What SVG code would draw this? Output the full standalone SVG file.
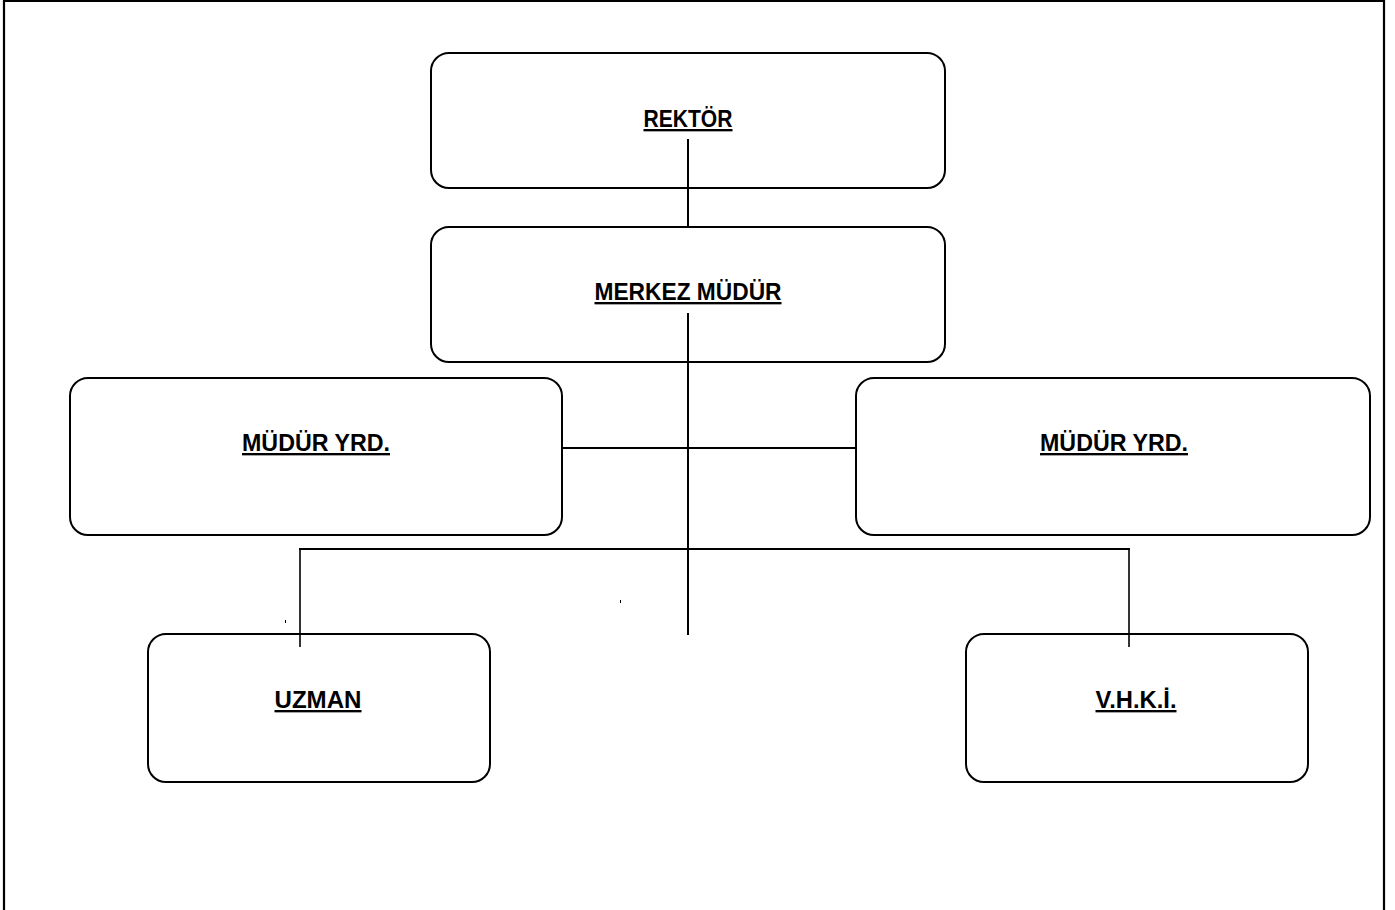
<svg xmlns="http://www.w3.org/2000/svg" width="1395" height="910" viewBox="0 0 1395 910">
<style>
.box{fill:#fff;stroke:#000;stroke-width:2}
.lbl{font-family:"Liberation Sans",Arial,sans-serif;font-weight:bold;font-size:23.5px;text-anchor:middle;text-decoration:underline;fill:#000}
.ln{stroke:#000;stroke-width:2;fill:none}
.ln2{stroke:#000;stroke-width:1.6;fill:none}
</style>
<rect x="0" y="0" width="1395" height="910" fill="#fff"/>
<path d="M4,910 V1 H1384 V910" fill="none" stroke="#000" stroke-width="2.2"/>
<g id="n-rektor"><rect class="box" x="431" y="53" width="514" height="135" rx="18"/><text class="lbl" x="688" y="127" textLength="89" lengthAdjust="spacingAndGlyphs">REKTÖR</text></g>
<g id="n-merkez"><rect class="box" x="431" y="227" width="514" height="135" rx="18"/><text class="lbl" x="688" y="300" textLength="187" lengthAdjust="spacingAndGlyphs">MERKEZ MÜDÜR</text></g>
<g id="n-yrd1"><rect class="box" x="70" y="378" width="492" height="157" rx="18"/><text class="lbl" x="316" y="451" textLength="148" lengthAdjust="spacingAndGlyphs">MÜDÜR YRD.</text></g>
<g id="n-yrd2"><rect class="box" x="856" y="378" width="514" height="157" rx="18"/><text class="lbl" x="1114" y="451" textLength="148" lengthAdjust="spacingAndGlyphs">MÜDÜR YRD.</text></g>
<g id="n-uzman"><rect class="box" x="148" y="634" width="342" height="148" rx="18"/><text class="lbl" x="318" y="708" textLength="87" lengthAdjust="spacingAndGlyphs">UZMAN</text></g>
<g id="n-vhki"><rect class="box" x="966" y="634" width="342" height="148" rx="18"/><text class="lbl" x="1136" y="708" textLength="81" lengthAdjust="spacingAndGlyphs">V.H.K.İ.</text></g>
<g id="connectors">
<line class="ln" x1="688" y1="139" x2="688" y2="227"/>
<line class="ln" x1="688" y1="313" x2="688" y2="635"/>
<line class="ln" x1="562" y1="448" x2="856" y2="448"/>
<line class="ln" x1="299" y1="549" x2="1130" y2="549"/>
<line class="ln2" x1="300" y1="549" x2="300" y2="647"/>
<line class="ln2" x1="1129" y1="549" x2="1129" y2="647"/>
<line stroke="#000" stroke-width="1" x1="285.5" y1="620" x2="285.5" y2="623"/>
<line stroke="#000" stroke-width="1" x1="620.5" y1="600" x2="620.5" y2="603"/>
</g>
</svg>
